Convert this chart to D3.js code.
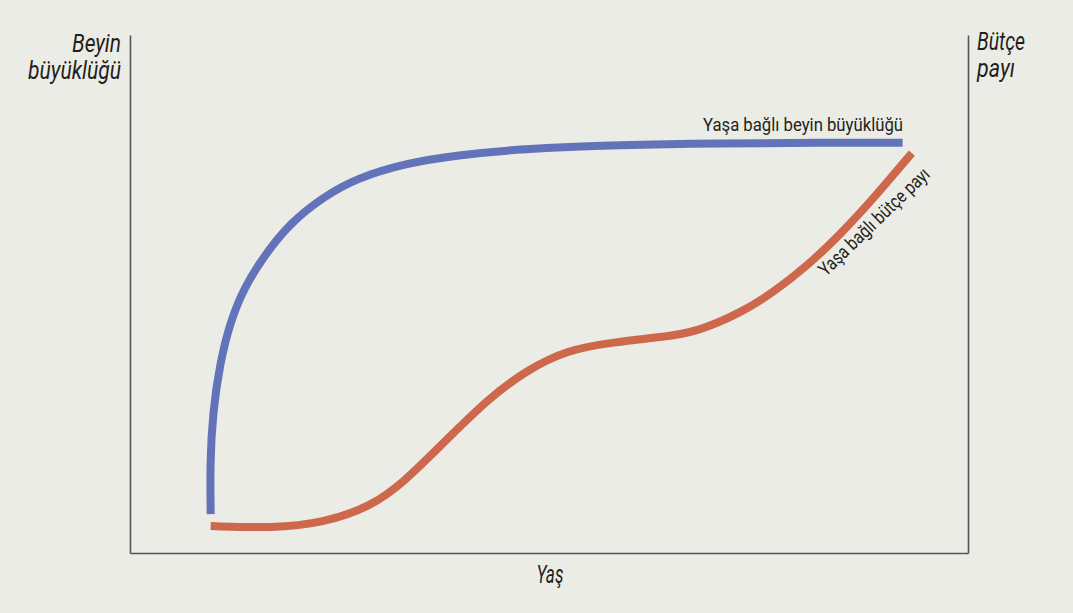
<!DOCTYPE html>
<html>
<head>
<meta charset="utf-8">
<script src="https://cdn.jsdelivr.net/npm/d3@7"></script>
<style>
  body { margin: 0; background: #ecece6; }
  svg text { font-family: Roboto, 'DejaVu Sans Condensed', sans-serif; fill: #231f20; }
</style>
</head>
<body>
<script>
// age on x (0-100), both y scales 0-100 (arbitrary units)
var brainAge  = [9.63, 9.55, 9.87, 10.74, 11.93, 13.48, 15.87, 19.09, 23.03, 27.09, 33.05, 39.0, 46.5, 58.5, 70.4, 82.3, 92.2];
var brainSize = [7.5, 17.4, 27.0, 36.7, 44.4, 50.8, 57.1, 63.7, 68.7, 72.4, 75.3, 76.8, 78.0, 78.8, 79.1, 79.2, 79.2];

var budgetAge   = [9.63, 17.06, 23.03, 28.64, 32.58, 37.35, 42.96, 47.37, 52.15, 57.64, 63.6, 67.66, 72.8, 76.7, 80.8, 84.7, 88.7, 93.3];
var budgetShare = [5.2, 4.8, 5.8, 8.9, 13.5, 21.2, 30.1, 35.3, 39.2, 40.7, 41.7, 42.7, 46.3, 50.2, 55.4, 61.4, 68.4, 77.2];

var leftTitle  = ['Beyin', 'büyüklüğü'];
var rightTitle = ['Bütçe', 'payı'];
var xTitle = 'Yaş';
var brainLabel = 'Yaşa bağlı beyin büyüklüğü';
var budgetLabel = 'Yaşa bağlı bütçe payı';

var W = 1073, H = 613;
var mLeft = 130, mRight = 968, mTop = 35, mBottom = 553;

var svg = d3.select('body').append('svg')
    .attr('width', W)
    .attr('height', H);

var x = d3.scaleLinear().domain([0, 100]).range([mLeft, mRight]);
var y = d3.scaleLinear().domain([0, 100]).range([mBottom, mTop]);

function bareAxis(g) {
    g.select('.domain').attr('stroke', '#555').attr('stroke-width', 1.6);
}

svg.append('g')
    .attr('transform', 'translate(' + mLeft + ',0)')
    .call(d3.axisLeft(y).tickValues([]).tickSizeOuter(0))
    .call(bareAxis);

svg.append('g')
    .attr('transform', 'translate(' + mRight + ',0)')
    .call(d3.axisRight(y).tickValues([]).tickSizeOuter(0))
    .call(bareAxis);

svg.append('g')
    .attr('transform', 'translate(0,' + mBottom + ')')
    .call(d3.axisBottom(x).tickValues([]).tickSizeOuter(0))
    .call(bareAxis);

var line = d3.line()
    .x(function(d) { return x(d[0]); })
    .y(function(d) { return y(d[1]); })
    .curve(d3.curveBasis);

svg.append('path')
    .datum(d3.zip(budgetAge, budgetShare))
    .attr('d', line)
    .attr('fill', 'none')
    .attr('stroke', '#cd684c')
    .attr('stroke-width', 8);

svg.append('path')
    .datum(d3.zip(brainAge, brainSize))
    .attr('d', line)
    .attr('fill', 'none')
    .attr('stroke', '#6373b9')
    .attr('stroke-width', 8);

// condensed look: squeeze glyphs into the measured widths
function label(xp, yp, str, size, width, anchor, italic) {
    return svg.append('text')
        .attr('x', xp).attr('y', yp)
        .attr('text-anchor', anchor || 'start')
        .attr('font-style', italic ? 'italic' : 'normal')
        .attr('font-size', size)
        .attr('textLength', width)
        .attr('lengthAdjust', 'spacingAndGlyphs')
        .text(str);
}

label(121, 52, leftTitle[0], 25, 49, 'end', true);
label(121, 79, leftTitle[1], 25, 93, 'end', true);
label(977, 50, rightTitle[0], 25, 48, 'start', true);
label(977, 77, rightTitle[1], 25, 38, 'start', true);
label(550, 583, xTitle, 25, 27, 'middle', true);

label(903, 131, brainLabel, 19, 200, 'end', false);

label(0, 0, budgetLabel, 19, 146, 'start', false)
    .attr('transform', 'translate(826,277) rotate(-44)');
</script>
</body>
</html>
